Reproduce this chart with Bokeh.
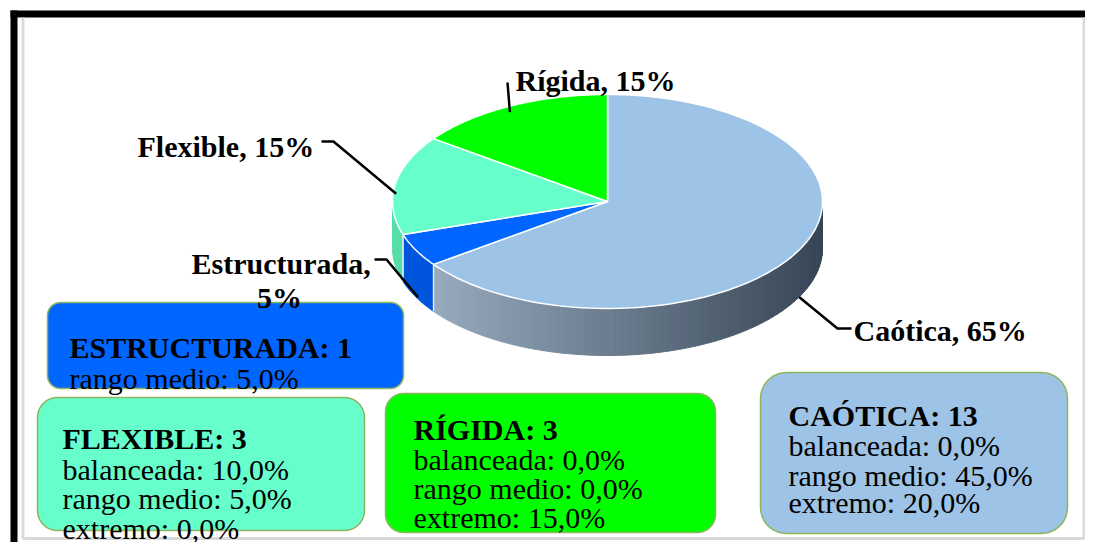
import numpy as np
from bokeh.plotting import figure
from bokeh.models import Range1d
from bokeh.core.properties import value
from bokeh.embed import file_html
from bokeh.resources import INLINE

# ---------------- data ----------------
categories = ["Caótica", "Estructurada", "Flexible", "Rígida"]
percents = [65, 5, 15, 15]

box_categories = ["Estructurada", "Flexible", "Rígida", "Caótica"]
box_counts = [1, 3, 3, 13]
estructurada_labels = ["rango medio"]
estructurada_vals = [5.0]
detail_labels = ["balanceada", "rango medio", "extremo"]
flexible_vals = [10.0, 5.0, 0.0]
rigida_vals = [0.0, 0.0, 15.0]
caotica_vals = [0.0, 45.0, 20.0]

# ---------------- styles ----------------
top_colors = ["#9DC3E6", "#0066FF", "#66FFCC", "#00FF00"]
side_colors = [None, "#0055DD", "#55DDAA", "#00CC00"]
grad_left = np.array([162, 182, 202])
grad_right = np.array([55, 70, 86])
FONT = value("Liberation Serif")

W, H = 1085, 542
p = figure(width=W, height=H, x_range=Range1d(0, W), y_range=Range1d(H, 0),
           output_backend="svg", toolbar_location=None, min_border=0,
           x_axis_location=None, y_axis_location=None)
p.grid.visible = False
p.outline_line_color = None
p.background_fill_color = "white"
p.border_fill_color = "white"

# frame
p.quad(left=[10, 10], right=[1093, 17], top=[10, 10], bottom=[17, 550],
       fill_color="black", line_color=None)
p.multi_line(xs=[[22.5, 22.5], [22, 1084], [1083.5, 1083.5]],
             ys=[[17, 538], [538, 538], [17, 538]], line_color="#D9D9D9", line_width=3)

# pie geometry
cx, cy, rx, ry, depth = 607, 201, 215, 107, 47


def ell(theta):
    t = np.radians(theta)
    return cx + rx * np.cos(t), cy - ry * np.sin(t)


cum = 90 - np.cumsum([0] + percents) * 3.6
his, los = cum[:-1], cum[1:]

# sides (front part between -180 and 0 degrees)
for i, (lo, hi) in enumerate(zip(los, his)):
    a, b = max(lo, -180.0), min(hi, 0.0)
    if a >= b:
        continue
    if i == 0:
        n = int(np.ceil((b - a) / 2.0))
        edges = np.linspace(a, b, n + 1)
        xs, ys, cols = [], [], []
        for k in range(n):
            th = np.linspace(edges[k], edges[k + 1], 4)
            x, y = ell(th)
            xs.append(list(x) + list(x[::-1]))
            ys.append(list(y) + list((y + depth)[::-1]))
            t = (np.mean(x) - (cx - rx)) / (2 * rx)
            c = (grad_left + (grad_right - grad_left) * t).astype(int)
            cols.append("#%02x%02x%02x" % tuple(c))
        p.patches(xs=xs, ys=ys, fill_color=cols, line_color=cols, line_width=1)
    else:
        th = np.linspace(a, b, 30)
        x, y = ell(th)
        p.patch(list(x) + list(x[::-1]), list(y) + list((y + depth)[::-1]),
                fill_color=side_colors[i], line_color=side_colors[i], line_width=1)

# boundaries on side
sx, sy = [], []
for ang in cum:
    a = ((ang + 180) % 360) - 180
    if -180 < a < 0:
        x, y = ell(a)
        sx.append([x, x])
        sy.append([y, y + depth])
p.multi_line(xs=sx, ys=sy, line_color="#E8EEF4", line_width=1.5)

# tops
txs, tys = [], []
for lo, hi in zip(los, his):
    th = np.linspace(hi, lo, 120)
    x, y = ell(th)
    txs.append([cx] + list(x))
    tys.append([cy] + list(y))
p.patches(xs=txs, ys=tys, fill_color=top_colors, line_color="white", line_width=1.5)

# leader lines
mids = (los + his) / 2
ends = []
for m in mids:
    x, y = ell(m)
    front = -180 < (((m + 180) % 360) - 180) < 0
    ends.append((x, y + (depth if front else 6)))
lead_x = [[ends[0][0], 837, 851],
          [374, 386, ends[1][0] + 2],
          [321, 333, ends[2][0] + 1],
          [507, ends[3][0]]]
lead_y = [[ends[0][1], 328, 328],
          [259, 259, ends[1][1]],
          [141, 141, ends[2][1] + 3],
          [82, ends[3][1]]]
p.multi_line(xs=lead_x, ys=lead_y, line_color="black", line_width=2.5)


# boxes
def rrect(x0, y0, x1, y1, r):
    xs, ys = [], []
    for (ccx, ccy, a0) in [(x1 - r, y0 + r, 90), (x1 - r, y1 - r, 0),
                           (x0 + r, y1 - r, -90), (x0 + r, y0 + r, -180)]:
        t = np.radians(np.linspace(a0, a0 - 90, 10))
        xs += list(ccx + r * np.cos(t))
        ys += list(ccy - r * np.sin(t))
    return xs, ys


def fmt(v):
    return f"{v:.1f}".replace(".", ",") + "%"


box_geom = [(47, 302, 403, 388, 13), (37, 397, 364, 530, 20),
            (385, 393, 715, 532, 18), (760, 372, 1067, 533, 26)]
box_fill = ["#0066FF", "#66FFCC", "#00FF00", "#9DC3E6"]
box_text_x = [69, 62, 413, 788]
box_base = [[347, 378], [438, 469, 498, 528], [429, 459, 488, 517], [415, 445, 475, 502]]
box_rows = [list(zip(estructurada_labels, estructurada_vals)),
            list(zip(detail_labels, flexible_vals)),
            list(zip(detail_labels, rigida_vals)),
            list(zip(detail_labels, caotica_vals))]

bx, by = [], []
for g in box_geom:
    x, y = rrect(*g)
    bx.append(x)
    by.append(y)
p.patches(xs=bx, ys=by, fill_color=box_fill, line_color="#8FB45E", line_width=1.5)

hx, hy, ht, rxs, rys, rts = [], [], [], [], [], []
for cat, cnt, tx, bases, rows in zip(box_categories, box_counts, box_text_x, box_base, box_rows):
    hx.append(tx)
    hy.append(bases[0])
    ht.append(f"{cat.upper()}: {cnt}")
    for (nm, v), b in zip(rows, bases[1:]):
        rxs.append(tx)
        rys.append(b)
        rts.append(f"{nm}: {fmt(v)}")
p.text(x=hx, y=hy, text=ht, text_font=FONT, text_font_style="bold", text_font_size="30px",
       text_baseline="alphabetic", text_align="left", text_color="black")
p.text(x=rxs, y=rys, text=rts, text_font=FONT, text_font_size="30px",
       text_baseline="alphabetic", text_align="left", text_color="black")

# pie labels (drawn last)
lab = {c: f"{c}, {v}%" for c, v in zip(categories, percents)}
p.text(x=[853, 137, 515], y=[330, 146, 80],
       text=[lab["Caótica"], lab["Flexible"], lab["Rígida"]],
       text_font=FONT, text_font_style="bold", text_font_size="30px",
       text_baseline="alphabetic", text_align="left", text_color="black")
p.text(x=[191], y=[263], text=[f"{categories[1]},"],
       text_font=FONT, text_font_style="bold", text_font_size="30px",
       text_baseline="alphabetic", text_align="left", text_color="black")
p.text(x=[279], y=[297], text=[f"{percents[1]}%"],
       text_font=FONT, text_font_style="bold", text_font_size="30px",
       text_baseline="alphabetic", text_align="center", text_color="black")

open("out.html", "w").write(file_html(p, INLINE))
